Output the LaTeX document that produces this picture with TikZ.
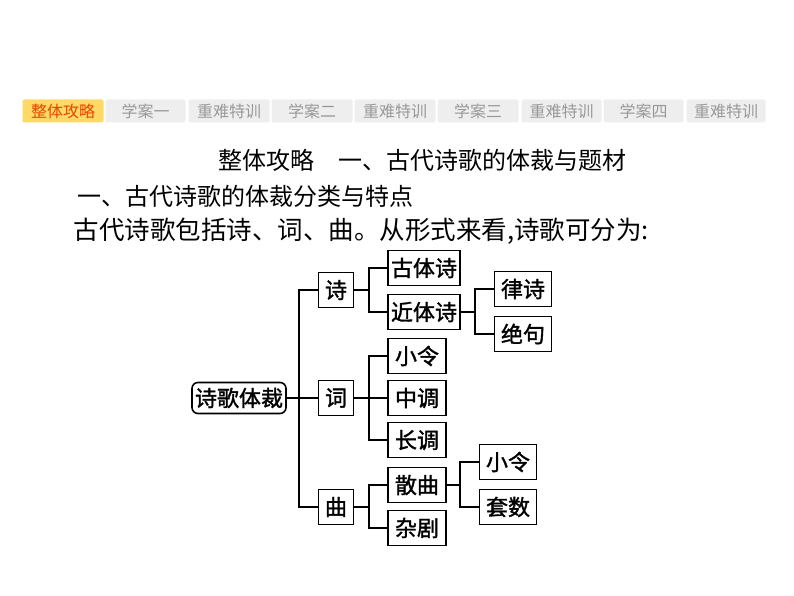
\documentclass[tikz,border=0pt]{standalone}
\usepackage{fontspec}
\setmainfont{Noto Sans CJK SC}
\newfontfamily\cjkb{Noto Sans CJK SC}[FakeBold=1.5]
\begin{document}
\begin{tikzpicture}[x=1pt,y=-1pt,
  tab/.style={fill=gray!13,rounded corners=2pt,minimum height=23pt,inner sep=0,text=gray!80,font=\fontsize{16}{16}\selectfont},
  bx/.style={draw,line width=1.6pt,minimum height=35pt,inner sep=2pt,font=\cjkb\fontsize{22}{22}\selectfont},
  ln/.style={line width=1.8pt}]
\useasboundingbox (0,0) rectangle (794,596);
\node[tab,fill=orange!50!yellow!60,text=orange!60!red!90!black,minimum width=81pt] (t0) at (63,111) {整体攻略};
\foreach \n/\a/\b/\t in {1/105/186/学案一,2/188/270/重难特训,3/271/353/学案二,4/354/436/重难特训,5/437/519/学案三,6/521/602/重难特训,7/603/684/学案四,8/686/766/重难特训}
  \node[tab,minimum width=\b-\a-1] (t\n) at ({(\a+\b)/2},111) {\t};
\node[font=\fontsize{24}{24}\selectfont] (title) at (422,160) {整体攻略\quad 一、古代诗歌的体裁与题材};
\node[anchor=west,font=\fontsize{24}{24}\selectfont] (h1) at (74,196) {一、古代诗歌的体裁分类与特点};
\node[anchor=west,font=\fontsize{25.5}{25.5}\selectfont] (h2) at (70,231) {古代诗歌包括诗、词、曲。从形式来看,诗歌可分为:};
\node[bx,rounded corners=6pt,minimum width=94pt,minimum height=31pt] (root) at (239,398) {诗歌体裁};
\node[bx,minimum width=35pt] (shi) at (336,290) {诗};
\node[bx,minimum width=35pt] (ci) at (336,398) {词};
\node[bx,minimum width=35pt] (qu) at (336,507) {曲};
\node[bx,minimum width=72pt] (gu) at (424,268) {古体诗};
\node[bx,minimum width=72pt] (jin) at (424,312) {近体诗};
\node[bx,minimum width=57pt] (lv) at (523,289) {律诗};
\node[bx,minimum width=57pt] (jue) at (523,334) {绝句};
\node[bx,minimum width=58pt] (xl) at (417,356) {小令};
\node[bx,minimum width=58pt] (zd) at (417,398) {中调};
\node[bx,minimum width=58pt] (cd) at (417,440) {长调};
\node[bx,minimum width=58pt] (sq) at (417,485) {散曲};
\node[bx,minimum width=58pt] (zj) at (417,528) {杂剧};
\node[bx,minimum width=57pt] (xl2) at (508,462) {小令};
\node[bx,minimum width=57pt] (ts) at (508,507) {套数};
\draw[ln] (root.east) -- (ci.west);
\draw[ln] (shi.west) -| (299,398) |- (qu.west);
\draw[ln] (shi.east) -- (369,290);
\draw[ln] (gu.west) -| (369,290) |- (jin.west);
\draw[ln] (ci.east) -- (zd.west);
\draw[ln] (xl.west) -| (369,398) |- (cd.west);
\draw[ln] (qu.east) -- (369,507);
\draw[ln] (sq.west) -| (369,507) |- (zj.west);
\draw[ln] (jin.east) -- (475,312);
\draw[ln] (lv.west) -| (475,312) |- (jue.west);
\draw[ln] (sq.east) -- (460,485);
\draw[ln] (xl2.west) -| (460,485) |- (ts.west);
\end{tikzpicture}
\end{document}
